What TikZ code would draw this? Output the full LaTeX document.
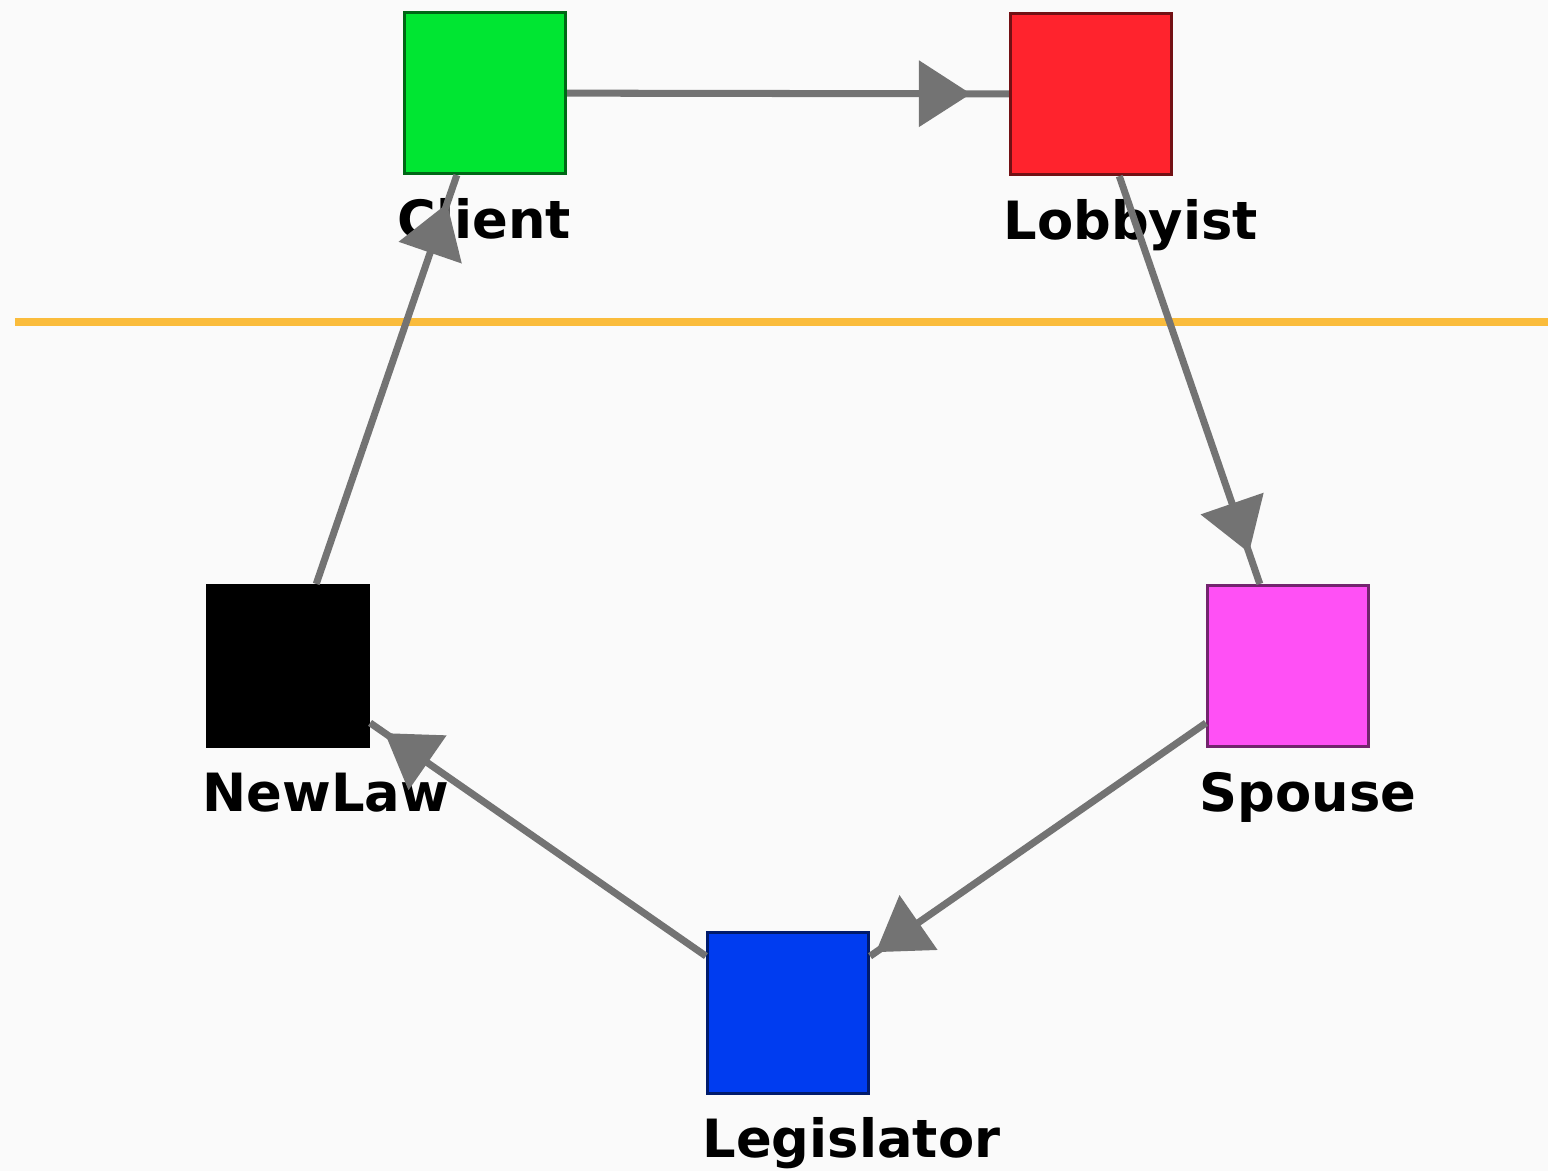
\documentclass[tikz,border=0pt]{standalone}
\usepackage{fontspec}
\setsansfont{DejaVu Sans}
\usepackage{xcolor}
\usetikzlibrary{arrows.meta,decorations.markings,positioning}
\definecolor{clientgreen}{RGB}{0,230,50}
\definecolor{lobbyred}{RGB}{255,35,45}
\definecolor{spousepink}{RGB}{255,80,245}
\definecolor{legisblue}{RGB}{0,60,240}
\definecolor{edgegray}{RGB}{115,115,115}
\definecolor{sepline}{RGB}{250,188,60}

\begin{document}
\begin{tikzpicture}[x=1cm,y=-1cm,line join=miter]
  \tikzstyle{vertex}=[rectangle,draw,line width=0.9pt,minimum size=1.61cm,inner sep=0pt]
  \tikzstyle{lab}=[font=\sffamily\bfseries\fontsize{15}{18}\selectfont,anchor=base west,inner sep=0pt]
  \tikzstyle{link}=[draw=edgegray,line width=2pt]
  \tikzset{tipat/.style={decoration={markings,
      mark=at position -#1 with {\arrow[edgegray]{Triangle[length=5.2mm,width=6.5mm]}}},
      postaction={decorate}}}

  \fill[white!98!black] (0,0) rectangle (15.48,11.71);
  \useasboundingbox (0,0) rectangle (15.48,11.71);

  % separator
  \coordinate (SepL) at (0.15,3.22);
  \coordinate (SepR) at (15.48,3.22);
  \draw[sepline,line width=0.08cm] (SepL) -- (SepR);

  \node[vertex,fill=clientgreen,draw=clientgreen!45!black] (Client)    at (4.85,0.93)  {};
  \node[vertex,fill=lobbyred,draw=lobbyred!45!black]      (Lobbyist)  at (10.91,0.94) {};
  \node[vertex,fill=spousepink,draw=spousepink!45!black]  (Spouse)    at (12.88,6.66) {};
  \node[vertex,fill=legisblue,draw=legisblue!45!black]    (Legislator) at (7.88,10.13) {};
  \node[vertex,fill=black,draw=black]                     (NewLaw)    at (2.88,6.66)  {};

  \node[lab] (ClientLab)     at ([xshift=-0.06cm,yshift=-0.63cm]Client.south west)     {Client};
  \node[lab] (LobbyistLab)   at ([xshift=-0.06cm,yshift=-0.63cm]Lobbyist.south west)   {Lobbyist};
  \node[lab] (SpouseLab)     at ([xshift=-0.07cm,yshift=-0.63cm]Spouse.south west)     {Spouse};
  \node[lab] (LegislatorLab) at ([xshift=-0.04cm,yshift=-0.62cm]Legislator.south west) {Legislator};
  \node[lab] (NewLawLab)     at ([xshift=-0.04cm,yshift=-0.63cm]NewLaw.south west)     {NewLaw};

  \path[link]
  (Client)     edge [tipat=0.38cm] (Lobbyist)
  (Lobbyist)   edge [tipat=0.33cm] (Spouse)
  (Spouse)     edge [tipat=0.06cm] (Legislator)
  (Legislator) edge [tipat=0.17cm] (NewLaw)
  (NewLaw)     edge [tipat=0.30cm] (Client)
  ;
\end{tikzpicture}
\end{document}
